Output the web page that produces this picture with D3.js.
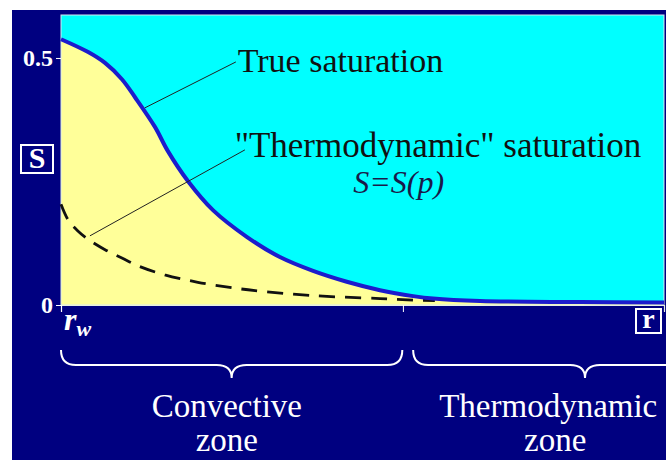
<!DOCTYPE html>
<html><head><meta charset="utf-8">
<script src="https://cdn.jsdelivr.net/npm/d3@7"></script>
<style>
body{margin:0;background:#fff}svg{display:block}
text{font-family:"Liberation Serif","Times New Roman",Tinos,"DejaVu Serif",serif}
</style>
</head><body>
<svg id="c" width="666" height="460"></svg>
<script>
// ---- data ----
const rTrue = [0, 0.045, 0.073, 0.101, 0.123, 0.156, 0.177, 0.211, 0.252, 0.308, 0.363, 0.418, 0.474, 0.529, 0.584, 0.617, 0.695, 0.861, 1.0];
const sTrue = [0.538, 0.512, 0.490, 0.457, 0.420, 0.360, 0.312, 0.250, 0.192, 0.138, 0.097, 0.069, 0.047, 0.030, 0.018, 0.013, 0.008, 0.006, 0.005];
const rDash = [0, 0.012, 0.028, 0.045, 0.073, 0.101, 0.128, 0.172, 0.227, 0.284, 0.322, 0.418, 0.529, 0.584, 0.62];
const sDash = [0.204, 0.172, 0.150, 0.133, 0.112, 0.095, 0.079, 0.061, 0.046, 0.035, 0.029, 0.019, 0.013, 0.010, 0.009];
const yTicks = [0, 0.5];
const yTickLabels = ["0", "0.5"];
const zoneBoundary = 0.567;
const zoneNames = [["Convective", "zone"], ["Thermodynamic", "zone"]];
const zoneBraces = [[0, 0.566], [0.584, 1.154]];
const labels = ["True saturation", "\"Thermodynamic\" saturation", "S=S(p)"];

// ---- layout ----
const svg = d3.select("#c");
const navy = "#000080";
const pL = 61, pR = 664, pT = 15, pB = 305;
const x = d3.scaleLinear().domain([0, 1]).range([pL, pR]);
const y = d3.scaleLinear().domain([0, 0.587]).range([pB, pT]);
const curve = d3.curveCatmullRom.alpha(0.5);

svg.append("rect").attr("x", 12).attr("y", 10).attr("width", 654).attr("height", 450).attr("fill", navy);
svg.append("rect").attr("x", pL).attr("y", pT).attr("width", pR - pL).attr("height", pB - pT)
  .attr("fill", "#00ffff");

const trueData = rTrue.map((r, i) => ({r, s: sTrue[i]}));
const dashData = rDash.map((r, i) => ({r, s: sDash[i]}));

svg.append("path").datum(trueData)
  .attr("d", d3.area().x(d => x(d.r)).y0(y(0)).y1(d => y(d.s)).curve(curve))
  .attr("fill", "#ffff99");

// border
svg.append("rect").attr("x", pL).attr("y", pT).attr("width", pR - pL).attr("height", pB - pT)
  .attr("fill", "none").attr("stroke", "#d8e8f0").attr("stroke-width", 1);

svg.append("path").datum(dashData)
  .attr("d", d3.line().x(d => x(d.r)).y(d => y(d.s)).curve(curve))
  .attr("fill", "none").attr("stroke", "#111").attr("stroke-width", 2.8).attr("stroke-dasharray", "16,10");

svg.append("path").datum(trueData)
  .attr("d", d3.line().x(d => x(d.r)).y(d => y(d.s)).curve(curve))
  .attr("fill", "none").attr("stroke", "#1c1ccc").attr("stroke-width", 4);

// leader lines (data units)
const leaders = [[0.139, 0.399, 0.290, 0.492], [0.048, 0.140, 0.305, 0.314]];
svg.selectAll(".leader").data(leaders).enter().append("line")
  .attr("x1", d => x(d[0])).attr("y1", d => y(d[1])).attr("x2", d => x(d[2])).attr("y2", d => y(d[3]))
  .attr("stroke", "#222").attr("stroke-width", 1);

// annotation text
svg.append("text").attr("x", x(0.293)).attr("y", y(0.4717)).text(labels[0])
  .attr("font-size", 34).attr("fill", "#111");
svg.append("text").attr("x", x(0.288)).attr("y", y(0.3)).text(labels[1])
  .attr("font-size", 35).attr("fill", "#111");
svg.append("text").attr("x", x(0.4845)).attr("y", y(0.227)).text(labels[2])
  .attr("font-size", 32).attr("font-style", "italic").attr("fill", "#1a1a4a");

// y axis
const yAxis = svg.append("g").attr("transform", `translate(${pL},0)`)
  .call(d3.axisLeft(y).tickValues(yTicks).tickSize(5).tickFormat((d, i) => yTickLabels[i]));
yAxis.select(".domain").remove();
yAxis.selectAll("line").attr("stroke", "#fff");
yAxis.selectAll("text").attr("fill", "#fff").attr("font-size", 24)
  .attr("font-weight", "bold").attr("x", -8);

// x axis ticks
const xAxis = svg.append("g").attr("transform", `translate(0,${pB})`)
  .call(d3.axisBottom(x).tickValues([0, zoneBoundary]).tickSize(7).tickFormat(""));
xAxis.select(".domain").attr("stroke", "#e8f0e0").attr("stroke-width", 1.2);
xAxis.selectAll("line").attr("stroke", "#fff");
svg.selectAll("g").attr("font-family", null).attr("font-size", null);

// r_w
const rw = svg.append("text").attr("x", x(0) + 3).attr("y", 330).attr("fill", "#fff")
  .attr("font-style", "italic").attr("font-weight", "bold").attr("font-size", 32);
rw.append("tspan").text("r");
rw.append("tspan").text("w").attr("font-size", 22).attr("dy", 6);

// boxed axis labels
function boxLabel(bx, by, w, h, t, fs) {
  svg.append("rect").attr("x", bx).attr("y", by).attr("width", w).attr("height", h)
    .attr("fill", "none").attr("stroke", "#fff").attr("stroke-width", 2);
  svg.append("text").attr("x", bx + w / 2).attr("y", by + h - 5).attr("text-anchor", "middle")
    .attr("fill", "#fff").attr("font-weight", "bold").attr("font-size", fs).text(t);
}
boxLabel(21, 145, 32, 28, "S", 30);
boxLabel(636, 309, 25, 24, "r", 28);

// braces
function brace(x1, x2, y0, d) {
  const xm = (x1 + x2) / 2, q = 15;
  return `M${x1},${y0} Q${x1},${y0 + q} ${x1 + q},${y0 + q} L${xm - q},${y0 + q} Q${xm},${y0 + q} ${xm},${y0 + d}` +
         ` Q${xm},${y0 + q} ${xm + q},${y0 + q} L${x2 - q},${y0 + q} Q${x2},${y0 + q} ${x2},${y0}`;
}
svg.selectAll(".brace").data(zoneBraces).enter().append("path")
  .attr("d", d => brace(x(d[0]), x(d[1]), 350, 28))
  .attr("fill", "none").attr("stroke", "#fff").attr("stroke-width", 2);

// zone names
const zoneCenters = [0.275, 0.808];
zoneNames.forEach((lines, i) => {
  lines.forEach((t, j) => {
    svg.append("text").attr("x", x(zoneCenters[i]) + (i === 1 && j === 1 ? 7 : 0)).attr("y", 417 + j * 34)
      .attr("text-anchor", "middle").attr("fill", "#fff").attr("font-size", 33).text(t);
  });
});
</script>
</body></html>
